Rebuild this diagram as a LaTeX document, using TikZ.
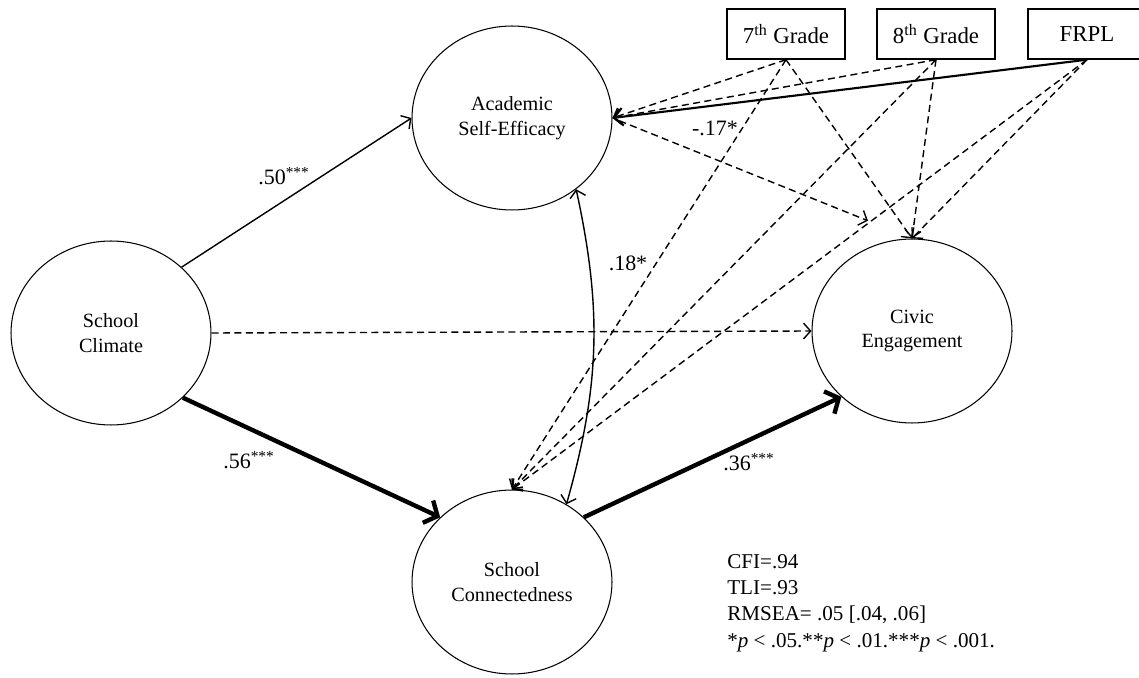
\documentclass[tikz,border=0pt]{standalone}
\usepackage{fontspec}
\setmainfont{Liberation Serif}
\usepackage{tikz}
\usetikzlibrary{shapes.geometric,arrows.meta}

\begin{document}
\begin{tikzpicture}[x=0.02cm,y=-0.02cm,
  latent/.style={draw, ellipse, line width=0.6pt, minimum width=4cm, minimum height=3.68cm, inner sep=0pt, align=center, font=\fontsize{11.5}{14.2}\selectfont},
  covar/.style={draw, rectangle, line width=0.8pt, minimum width=2.36cm, minimum height=1cm, font=\fontsize{13}{15}\selectfont},
  weak/.style={line width=0.8pt, -{Straight Barb[length=4pt,width=9pt]}},
  ns/.style={weak, dash pattern=on 4pt off 2.5pt},
  strong/.style={line width=2.5pt, -{Straight Barb[length=6pt,width=14pt]}},
  corr/.style={line width=0.8pt, {Straight Barb[length=4pt,width=9pt]}-{Straight Barb[length=4pt,width=9pt]}},
  coef/.style={font=\fontsize{12.5}{15}\selectfont}]

\useasboundingbox (0,0) rectangle (1139,678);

% Latent variables
\node[latent] (climate) at (111,333) {School\\Climate};
\node[latent] (acad) at (512,118) {Academic\\Self-Efficacy};
\node[latent] (conn) at (512,582) {School\\Connectedness};
\node[latent] (civic) at (912,331) {Civic\\Engagement};

% Covariates
\node[covar] (g7) at (786,34) {7\textsuperscript{th} Grade};
\node[covar] (g8) at (936,34) {8\textsuperscript{th} Grade};
\node[covar] (frpl) at (1087,34) {FRPL};

% Structural paths
\draw[weak] (climate.43) -- (acad.west);
\draw[ns] (climate.east) -- (civic.west);
\draw[strong] (climate.-42) -- (conn.138);
\draw[strong] (conn.42) -- (civic.223);
\draw[ns, shorten <=0.15cm, shorten >=0.95cm] (acad.east) -- (civic.north);

% Residual correlation
\draw[corr] (acad.-48) to[bend left=14] (conn.55);

% Covariate paths
\foreach \g in {g7,g8} {
  \draw[ns] (\g.south) -- (acad.east);
  \draw[ns] (\g.south) -- (conn.north);
  \draw[ns] (\g.south) -- (civic.north);
}
\draw[line width=1.2pt, -{Straight Barb[length=5pt,width=10pt]}] (frpl.south) -- (acad.east);
\draw[ns] (frpl.south) -- (conn.north);
\draw[ns] (frpl.south) -- (civic.north);

% Coefficients
\node[coef] (b50) at (284,176) {.50\textsuperscript{***}};
\node[coef] (b56) at (249,460) {.56\textsuperscript{***}};
\node[coef] (b36) at (749,462) {.36\textsuperscript{***}};
\node[coef] (b17) at (715,128) {-.17*};
\node[coef] (b18) at (628,263) {.18*};

% Fit indices
\node[anchor=west, align=left, inner sep=0pt, font=\fontsize{12}{14.9}\selectfont] (fit) at (727,603)
  {CFI=.94\\TLI=.93\\RMSEA= .05 [.04, .06]\\*\textit{p} < .05.**\textit{p} < .01.***\textit{p} < .001.};

\end{tikzpicture}
\end{document}
